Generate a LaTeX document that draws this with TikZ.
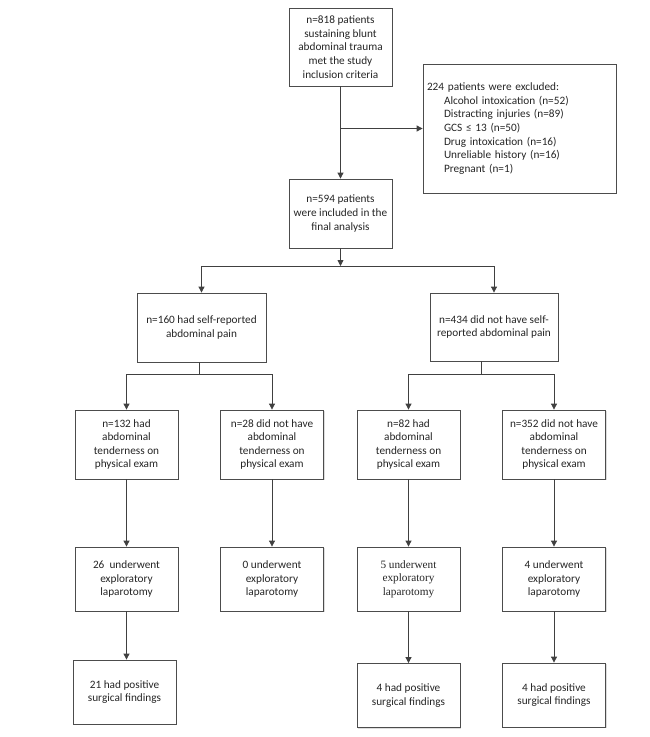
\documentclass[tikz,border=0pt]{standalone}
\usepackage{fontspec}
\setmainfont{Carlito}
\newfontfamily\serifx{Liberation Serif}
\usetikzlibrary{arrows.meta,shadows}
\begin{document}
\begin{tikzpicture}[x=1bp,y=-1bp,
 box/.style={draw=black!70, line width=0.8bp, fill=white, align=center, inner sep=2bp,
   font=\fontsize{11.3}{13.7}\selectfont, text=black!85,
   drop shadow={shadow xshift=1.2bp, shadow yshift=-1.4bp, opacity=0.22, fill=black!60}},
 w103/.style={minimum width=103bp},
 arr/.style={draw=black!75, line width=0.8bp, -{Triangle[width=6bp,length=6bp]}},
 ln/.style={draw=black!75, line width=0.8bp}]
\useasboundingbox (0,0) rectangle (650,737);

\node[box, w103, minimum height=78bp] (b818) at (340.5,47) {n=818 patients\\sustaining blunt\\abdominal trauma\\met the study\\inclusion criteria};
\node[box, minimum width=193bp, minimum height=129bp, text width=185bp, align=left, inner xsep=4bp] (bexc) at (519.5,128.5)
 {224 patients were excluded:\\
 \hspace*{17bp}Alcohol intoxication (n=52)\\
 \hspace*{17bp}Distracting injuries (n=89)\\
 \hspace*{17bp}GCS ≤ 13 (n=50)\\
 \hspace*{17bp}Drug intoxication (n=16)\\
 \hspace*{17bp}Unreliable history (n=16)\\
 \hspace*{17bp}Pregnant (n=1)};
\node[box, w103, minimum height=69bp] (b594) at (340.5,213.5) {n=594 patients\\were included in the\\final analysis};
\node[box, minimum width=129bp, minimum height=69bp] (b160) at (201.5,327.5) {n=160 had self-reported\\abdominal pain};
\node[box, minimum width=128bp, minimum height=68bp] (b434) at (494,327) {n=434 did not have self-\\reported abdominal pain};

\node[box, w103, minimum height=69bp] (b132) at (126.5,444.5) {n=132 had\\abdominal\\tenderness on\\physical exam};
\node[box, w103, minimum height=69bp] (b28) at (272,444.5) {n=28 did not have\\abdominal\\tenderness on\\physical exam};
\node[box, w103, minimum height=69bp] (b82) at (408.5,444.5) {n=82 had\\abdominal\\tenderness on\\physical exam};
\node[box, w103, minimum height=69bp] (b352) at (554,444.5) {n=352 did not have\\abdominal\\tenderness on\\physical exam};

\node[box, w103, minimum height=64bp] (l26) at (126.5,579) {26~ underwent\\exploratory\\laparotomy};
\node[box, w103, minimum height=64bp] (l0) at (272,579) {0 underwent\\exploratory\\laparotomy};
\node[box, w103, minimum height=64bp, font=\serifx\fontsize{11.3}{13.7}\selectfont] (l5) at (408.5,579) {5 underwent\\exploratory\\laparotomy};
\node[box, w103, minimum height=64bp] (l4) at (554,579) {4 underwent\\exploratory\\laparotomy};

\node[box, w103, minimum height=64bp] (p21) at (124.5,692) {21 had positive\\surgical findings};
\node[box, w103, minimum height=64bp] (p4a) at (408.5,695.5) {4 had positive\\surgical findings};
\node[box, w103, minimum height=64bp] (p4b) at (554,695) {4 had positive\\surgical findings};

\coordinate (j2) at (340.5,266);
\coordinate (j3) at (199.5,374);
\coordinate (j4) at (481.25,374);

\draw[arr] (b818.south) -- (b594.north);
\draw[arr] (b818.south |- bexc.west) -- (bexc.west);
\draw[arr] (b594.south) -- (j2);
\draw[arr] (j2) -| (b160.north);
\draw[arr] (j2) -| (b434.north);
\draw[ln] (j3 |- b160.south) -- (j3);
\draw[arr] (j3) -| (b132.north);
\draw[arr] (j3) -| (b28.north);
\draw[ln] (j4 |- b434.south) -- (j4);
\draw[arr] (j4) -| (b82.north);
\draw[arr] (j4) -| (b352.north);

\draw[arr] (b132.south) -- (l26.north);
\draw[arr] (b28.south) -- (l0.north);
\draw[arr] (b82.south) -- (l5.north);
\draw[arr] (b352.south) -- (l4.north);

\draw[arr] (l26.south) -- (l26.south |- p21.north);
\draw[arr] (l5.south) -- (p4a.north);
\draw[arr] (l4.south) -- (p4b.north);
\end{tikzpicture}
\end{document}
